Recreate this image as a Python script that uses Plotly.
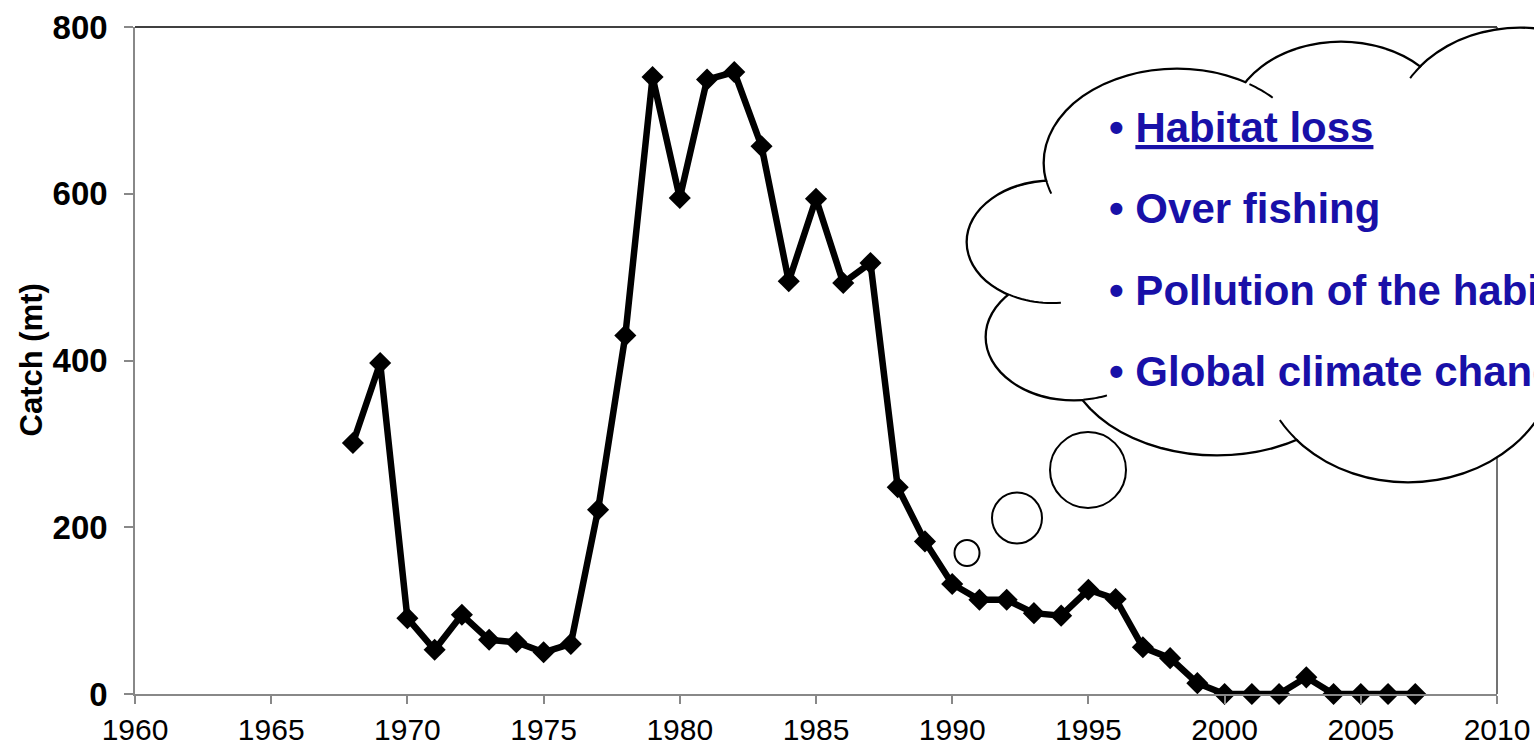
import math
import plotly.graph_objects as go

# catch per year
years = list(range(1968, 2008))
catch = [301, 397, 91, 53, 95, 65, 62, 50, 60, 221,
         430, 740, 595, 737, 746, 657, 495, 594, 493, 517,
         248, 183, 132, 113, 113, 97, 94, 125, 114, 56,
         43, 13, 0, 0, 0, 20, 0, 0, 0, 0]

causes = ["Habitat loss", "Over fishing", "Pollution of the habitat", "Global climate change"]

W, H = 1534, 744
L, R, T, B = 135, 37, 27, 50
PW, PH = W - L - R, H - T - B


def px(x):
    return (x - L) / PW


def py(y):
    return (T + PH - y) / PH


fig = go.Figure()
fig.add_trace(go.Scatter(
    x=years, y=catch, mode="lines+markers",
    line=dict(color="black", width=6.5),
    marker=dict(symbol="diamond", size=17, color="black"),
    showlegend=False, cliponaxis=False))

# plot frame: top and right border
fig.add_shape(type="line", xref="paper", yref="paper", x0=0, x1=1, y0=1, y1=1,
              line=dict(color="black", width=1.5))
fig.add_shape(type="line", xref="paper", yref="paper", x0=1, x1=1, y0=0, y1=1,
              line=dict(color="#444444", width=1.5))


def ellipse(cx, cy, rx, ry, lw, shrink=0):
    rx, ry = rx - shrink, ry - shrink
    fig.add_shape(type="circle", xref="paper", yref="paper",
                  x0=px(cx - rx), x1=px(cx + rx), y0=py(cy + ry), y1=py(cy - ry),
                  fillcolor="white",
                  line=dict(color="black", width=lw) if lw else dict(width=0))


def arc(cx, cy, rx, ry, a0, a1):
    # short piece of an ellipse outline (the little inner hooks of the cloud)
    pts = []
    for k in range(13):
        t = math.radians(a0 + (a1 - a0) * k / 12)
        pts.append("%.5f,%.5f" % (px(cx + rx * math.cos(t)), py(cy - ry * math.sin(t))))
    fig.add_shape(type="path", xref="paper", yref="paper", path="M" + " L".join(pts),
                  line=dict(color="black", width=2))


# cloud bumps (pixel centre / radii)
A = (1177, 163, 133, 94)
Bb = (1341, 127, 112, 85)
C = (1520, 138, 131, 110)
D = (1052, 242, 85, 61)
E = (1074, 337, 88, 63)
F = (1217, 351, 152, 104)
G = (1408, 358, 148, 124)
bumps = [A, Bb, C, D, E, F, G]
fillers = [(1250, 250, 220, 160), (1380, 200, 130, 100), (1560, 275, 90, 150)]

for b in bumps:
    ellipse(*b, lw=3)
for b in bumps:
    ellipse(*b, lw=0, shrink=0.8)
for f in fillers:
    ellipse(*f, lw=0)

for b, a0, a1 in [(A, 44, 57), (A, 190, 199), (C, 139, 147), (D, 240, 276),
                  (E, 276, 292), (G, 210, 222)]:
    arc(*b, a0, a1)

# thought bubbles
for b in [(967, 553, 12.5, 13), (1017, 518, 25, 25.5), (1088, 470, 38, 38)]:
    ellipse(*b, lw=2)

blue = "#1810A8"
ys = [127, 208, 290, 372]
for i, (txt, yy) in enumerate(zip(causes, ys)):
    body = '<span style="text-decoration:underline">%s</span>' % txt if i == 0 else txt
    fig.add_annotation(xref="paper", yref="paper", x=px(1107), y=py(yy),
                       xanchor="left", yanchor="middle", showarrow=False,
                       text="<b>\u2022 " + body + "</b>",
                       font=dict(family="Liberation Sans, Arial", size=42, color=blue))

fig.add_annotation(xref="paper", yref="paper", x=px(31), y=0.5,
                   xanchor="center", yanchor="middle", showarrow=False, textangle=-90,
                   text="<b>Catch (mt)</b>",
                   font=dict(family="Liberation Sans, Arial", size=31, color="black"))

fig.update_layout(
    width=W, height=H,
    margin=dict(l=L, r=R, t=T, b=B, autoexpand=False),
    plot_bgcolor="white", paper_bgcolor="white",
    xaxis=dict(range=[1960, 2010], dtick=5, tick0=1960, showgrid=False, zeroline=False,
               automargin=False,
               showline=True, linecolor="#888888", linewidth=1.5,
               ticks="outside", ticklen=8, tickcolor="#888888", tickwidth=1.5,
               ticklabelstandoff=0,
               tickfont=dict(family="Liberation Sans, Arial", size=30, color="black")),
    yaxis=dict(range=[0, 800], dtick=200, showgrid=False, zeroline=False,
               automargin=False,
               showline=True, linecolor="#888888", linewidth=1.5,
               ticks="outside", ticklen=9, tickcolor="#888888", tickwidth=1.5,
               ticklabelstandoff=10,
               tickfont=dict(family="Liberation Sans, Arial", size=33, color="black",
                             weight="bold")),
)

fig.write_html("out.html", config={"displayModeBar": False},
               post_script="document.body.style.margin='0';")
